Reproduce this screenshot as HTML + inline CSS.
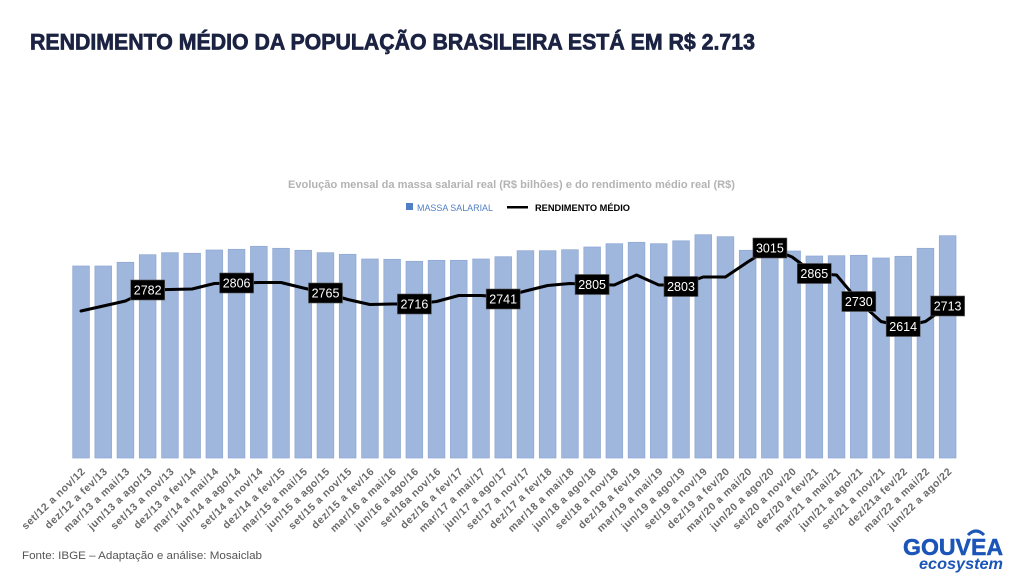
<!DOCTYPE html>
<html><head><meta charset="utf-8"><style>
html,body{margin:0;padding:0;background:#fff;}
svg{display:block;}
</style></head><body>
<svg width="1024" height="576" viewBox="0 0 1024 576" xmlns="http://www.w3.org/2000/svg" font-family="'Liberation Sans', sans-serif">
<rect width="1024" height="576" fill="#fff"/>
<text x="30" y="49.5" font-size="22" font-weight="bold" fill="#1b2242" stroke="#1b2242" stroke-width="0.7" textLength="725" lengthAdjust="spacingAndGlyphs">RENDIMENTO MÉDIO DA POPULAÇÃO BRASILEIRA ESTÁ EM R$ 2.713</text>
<text x="288" y="188" font-size="11" font-weight="bold" fill="#b3b3b3" textLength="447" lengthAdjust="spacingAndGlyphs">Evolução mensal da massa salarial real (R$ bilhões) e do rendimento médio real (R$)</text>
<rect x="406" y="203" width="7" height="7" fill="#4f7fc4"/>
<text x="417" y="211" font-size="9" fill="#4f7fc4" textLength="76" lengthAdjust="spacingAndGlyphs">MASSA SALARIAL</text>
<rect x="507" y="206" width="21" height="2.5" fill="#000"/>
<text x="535" y="211" font-size="9" font-weight="bold" fill="#000" textLength="95" lengthAdjust="spacingAndGlyphs">RENDIMENTO MÉDIO</text>
<g fill="#9fb6dd" stroke="#8ea7d3" stroke-width="0.7">
<rect x="72.7" y="266" width="16.7" height="192"/>
<rect x="94.9" y="266" width="16.7" height="192"/>
<rect x="117.1" y="262.3" width="16.7" height="195.7"/>
<rect x="139.3" y="254.7" width="16.7" height="203.3"/>
<rect x="161.6" y="252.7" width="16.7" height="205.3"/>
<rect x="183.8" y="253.3" width="16.7" height="204.7"/>
<rect x="206.0" y="250" width="16.7" height="208"/>
<rect x="228.2" y="249.3" width="16.7" height="208.7"/>
<rect x="250.5" y="246.3" width="16.7" height="211.7"/>
<rect x="272.7" y="248.3" width="16.7" height="209.7"/>
<rect x="294.9" y="250.3" width="16.7" height="207.7"/>
<rect x="317.1" y="252.7" width="16.7" height="205.3"/>
<rect x="339.3" y="254.3" width="16.7" height="203.7"/>
<rect x="361.6" y="259" width="16.7" height="199"/>
<rect x="383.8" y="259.3" width="16.7" height="198.7"/>
<rect x="406.0" y="261.3" width="16.7" height="196.7"/>
<rect x="428.2" y="260.3" width="16.7" height="197.7"/>
<rect x="450.4" y="260.3" width="16.7" height="197.7"/>
<rect x="472.7" y="259" width="16.7" height="199"/>
<rect x="494.9" y="256.7" width="16.7" height="201.3"/>
<rect x="517.1" y="250.7" width="16.7" height="207.3"/>
<rect x="539.3" y="250.7" width="16.7" height="207.3"/>
<rect x="561.6" y="249.7" width="16.7" height="208.3"/>
<rect x="583.8" y="247" width="16.7" height="211"/>
<rect x="606.0" y="243.7" width="16.7" height="214.3"/>
<rect x="628.2" y="242.3" width="16.7" height="215.7"/>
<rect x="650.4" y="243.7" width="16.7" height="214.3"/>
<rect x="672.7" y="240.8" width="16.7" height="217.2"/>
<rect x="694.9" y="234.7" width="16.7" height="223.3"/>
<rect x="717.1" y="236.7" width="16.7" height="221.3"/>
<rect x="739.3" y="250.3" width="16.7" height="207.7"/>
<rect x="761.5" y="252" width="16.7" height="206"/>
<rect x="783.8" y="251" width="16.7" height="207"/>
<rect x="806.0" y="256" width="16.7" height="202"/>
<rect x="828.2" y="255.7" width="16.7" height="202.3"/>
<rect x="850.4" y="255.3" width="16.7" height="202.7"/>
<rect x="872.7" y="258" width="16.7" height="200"/>
<rect x="894.9" y="256.3" width="16.7" height="201.7"/>
<rect x="917.1" y="248.3" width="16.7" height="209.7"/>
<rect x="939.3" y="235.7" width="16.7" height="222.3"/>
</g>
<polyline fill="none" stroke="#000" stroke-width="3" stroke-linejoin="round" stroke-linecap="round" points="81.0,311 103.3,306 125.5,301 147.7,290 169.9,289.5 192.1,289 214.4,283.5 236.6,283 258.8,282.5 281.0,282.5 303.3,288 325.5,293 347.7,299.5 369.9,304.5 392.1,304 414.4,304 436.6,301.5 458.8,295.5 481.0,295.5 503.2,297 525.5,291 547.7,285.5 569.9,283.5 592.1,284.5 614.3,285 636.6,275 658.8,285 681.0,285 703.2,277 725.4,277 747.7,262 769.9,248 792.1,257 814.3,273.5 836.5,275 858.8,301.5 881.0,321.5 903.2,326.5 925.4,321.5 947.6,306"/>
<g font-size="12.5" fill="#fff" text-anchor="middle">
<rect x="130.7" y="280" width="34" height="20" fill="#000" stroke="#555" stroke-width="0.6"/><text x="147.7" y="294.5">2782</text>
<rect x="219.6" y="273" width="34" height="20" fill="#000" stroke="#555" stroke-width="0.6"/><text x="236.6" y="287.5">2806</text>
<rect x="308.5" y="283" width="34" height="20" fill="#000" stroke="#555" stroke-width="0.6"/><text x="325.5" y="297.5">2765</text>
<rect x="397.4" y="294" width="34" height="20" fill="#000" stroke="#555" stroke-width="0.6"/><text x="414.4" y="308.5">2716</text>
<rect x="486.2" y="289" width="34" height="20" fill="#000" stroke="#555" stroke-width="0.6"/><text x="503.2" y="303.5">2741</text>
<rect x="575.1" y="274.5" width="34" height="20" fill="#000" stroke="#555" stroke-width="0.6"/><text x="592.1" y="289">2805</text>
<rect x="664.0" y="276.5" width="34" height="20" fill="#000" stroke="#555" stroke-width="0.6"/><text x="681.0" y="291">2803</text>
<rect x="752.9" y="238" width="34" height="20" fill="#000" stroke="#555" stroke-width="0.6"/><text x="769.9" y="252.5">3015</text>
<rect x="797.3" y="263.5" width="34" height="20" fill="#000" stroke="#555" stroke-width="0.6"/><text x="814.3" y="278">2865</text>
<rect x="841.8" y="291.5" width="34" height="20" fill="#000" stroke="#555" stroke-width="0.6"/><text x="858.8" y="306">2730</text>
<rect x="886.2" y="316.5" width="34" height="20" fill="#000" stroke="#555" stroke-width="0.6"/><text x="903.2" y="331">2614</text>
<rect x="930.6" y="296" width="34" height="20" fill="#000" stroke="#555" stroke-width="0.6"/><text x="947.6" y="310.5">2713</text>
</g>
<g font-size="10.5" font-weight="bold" fill="#6a6a6a" text-anchor="end" letter-spacing="0.6">
<text transform="translate(86.0,472) rotate(-44)">set/12 a nov/12</text>
<text transform="translate(108.3,472) rotate(-44)">dez/12 a fev/13</text>
<text transform="translate(130.5,472) rotate(-44)">mar/13 a mai/13</text>
<text transform="translate(152.7,472) rotate(-44)">jun/13 a ago/13</text>
<text transform="translate(174.9,472) rotate(-44)">set/13 a nov/13</text>
<text transform="translate(197.1,472) rotate(-44)">dez/13 a fev/14</text>
<text transform="translate(219.4,472) rotate(-44)">mar/14 a mai/14</text>
<text transform="translate(241.6,472) rotate(-44)">jun/14 a ago/14</text>
<text transform="translate(263.8,472) rotate(-44)">set/14 a nov/14</text>
<text transform="translate(286.0,472) rotate(-44)">dez/14 a fev/15</text>
<text transform="translate(308.3,472) rotate(-44)">mar/15 a mai/15</text>
<text transform="translate(330.5,472) rotate(-44)">jun/15 a ago/15</text>
<text transform="translate(352.7,472) rotate(-44)">set/15 a nov/15</text>
<text transform="translate(374.9,472) rotate(-44)">dez/15 a fev/16</text>
<text transform="translate(397.1,472) rotate(-44)">mar/16 a mai/16</text>
<text transform="translate(419.4,472) rotate(-44)">jun/16 a ago/16</text>
<text transform="translate(441.6,472) rotate(-44)">set/16a nov/16</text>
<text transform="translate(463.8,472) rotate(-44)">dez/16 a fev/17</text>
<text transform="translate(486.0,472) rotate(-44)">mar/17 a mai/17</text>
<text transform="translate(508.2,472) rotate(-44)">jun/17 a ago/17</text>
<text transform="translate(530.5,472) rotate(-44)">set/17 a nov/17</text>
<text transform="translate(552.7,472) rotate(-44)">dez/17 a fev/18</text>
<text transform="translate(574.9,472) rotate(-44)">mar/18 a mai/18</text>
<text transform="translate(597.1,472) rotate(-44)">jun/18 a ago/18</text>
<text transform="translate(619.3,472) rotate(-44)">set/18 a nov/18</text>
<text transform="translate(641.6,472) rotate(-44)">dez/18 a fev/19</text>
<text transform="translate(663.8,472) rotate(-44)">mar/19 a mai/19</text>
<text transform="translate(686.0,472) rotate(-44)">jun/19 a ago/19</text>
<text transform="translate(708.2,472) rotate(-44)">set/19 a nov/19</text>
<text transform="translate(730.4,472) rotate(-44)">dez/19 a fev/20</text>
<text transform="translate(752.7,472) rotate(-44)">mar/20 a mai/20</text>
<text transform="translate(774.9,472) rotate(-44)">jun/20 a ago/20</text>
<text transform="translate(797.1,472) rotate(-44)">set/20 a nov/20</text>
<text transform="translate(819.3,472) rotate(-44)">dez/20 a fev/21</text>
<text transform="translate(841.5,472) rotate(-44)">mar/21 a mai/21</text>
<text transform="translate(863.8,472) rotate(-44)">jun/21 a ago/21</text>
<text transform="translate(886.0,472) rotate(-44)">set/21 a nov/21</text>
<text transform="translate(908.2,472) rotate(-44)">dez/21a fev/22</text>
<text transform="translate(930.4,472) rotate(-44)">mar/22 a mai/22</text>
<text transform="translate(952.6,472) rotate(-44)">jun/22 a ago/22</text>
</g>
<text x="22" y="559" font-size="11" fill="#555" textLength="240" lengthAdjust="spacingAndGlyphs">Fonte: IBGE – Adaptação e análise: Mosaiclab</text>
<text x="903" y="555" font-size="23" font-weight="bold" fill="#1b55b8" stroke="#1b55b8" stroke-width="0.5" textLength="100" lengthAdjust="spacingAndGlyphs">GOUVEA</text>
<path d="M968,535 Q976,527 984,535" fill="none" stroke="#1b55b8" stroke-width="3"/>
<text x="919" y="569" font-size="15.5" font-weight="bold" font-style="italic" fill="#1b55b8" textLength="84" lengthAdjust="spacingAndGlyphs">ecosystem</text>
</svg>
</body></html>
